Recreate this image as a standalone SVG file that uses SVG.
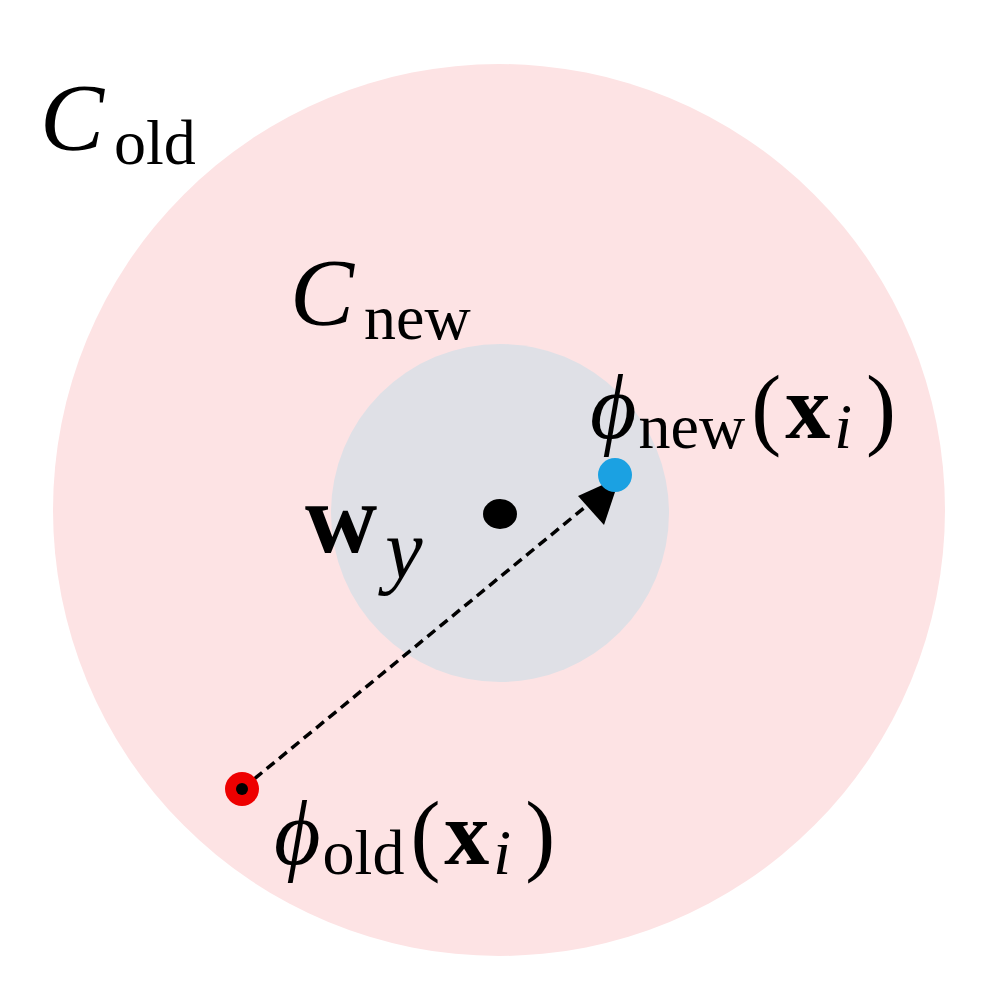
<svg xmlns="http://www.w3.org/2000/svg" width="996" height="992" viewBox="0 0 996 992">
<style>
.t{font-family:"Liberation Serif","DejaVu Serif",serif;fill:#000}
.cal{font-style:italic;font-size:96px}
.sub{font-size:64px}
.big{font-size:90px}
.b{font-weight:bold}
.i{font-style:italic}
</style>
<rect width="996" height="992" fill="#fff"/>
<g id="old-region"><circle cx="499" cy="510" r="446" fill="#fde3e4"/></g>
<g id="new-region"><circle cx="500" cy="513" r="169" fill="#dfe0e6"/></g>
<g id="connectors">
<line x1="242" y1="789" x2="590" y2="503" stroke="#000" stroke-width="3.5" stroke-dasharray="10,6"/>
<polygon points="620,477 578,496 604,525" fill="#000"/>
</g>
<g id="wy"><ellipse cx="500" cy="514" rx="17" ry="15" fill="#000"/>
<text class="t" x="305" y="552"><tspan class="b" font-size="100">w</tspan><tspan class="i" font-size="84" dx="8" dy="26">y</tspan></text></g>
<g id="phi-new"><circle cx="615" cy="475" r="17" fill="#1ba1e2"/>
<text class="t big" x="590" y="438"><tspan class="i">ϕ</tspan><tspan class="sub" dx="2" dy="10">new</tspan><tspan dx="6" dy="-10">(</tspan><tspan class="b" dx="4">x</tspan><tspan class="i sub" dx="4" dy="10">i</tspan><tspan dx="14" dy="-10">)</tspan></text></g>
<g id="phi-old"><circle cx="242" cy="789" r="17" fill="#ee0000"/><circle cx="242" cy="789" r="6" fill="#000"/>
<text class="t big" x="274" y="864"><tspan class="i">ϕ</tspan><tspan class="sub" dx="2" dy="10">old</tspan><tspan dx="6" dy="-10">(</tspan><tspan class="b" dx="4">x</tspan><tspan class="i sub" dx="4" dy="10">i</tspan><tspan dx="14" dy="-10">)</tspan></text></g>
<g id="c-old"><text class="t" x="40" y="150"><tspan class="cal">C</tspan><tspan class="sub" dx="10" dy="14">old</tspan></text></g>
<g id="c-new"><text class="t" x="290" y="325"><tspan class="cal">C</tspan><tspan class="sub" dx="10" dy="14">new</tspan></text></g>
</svg>
